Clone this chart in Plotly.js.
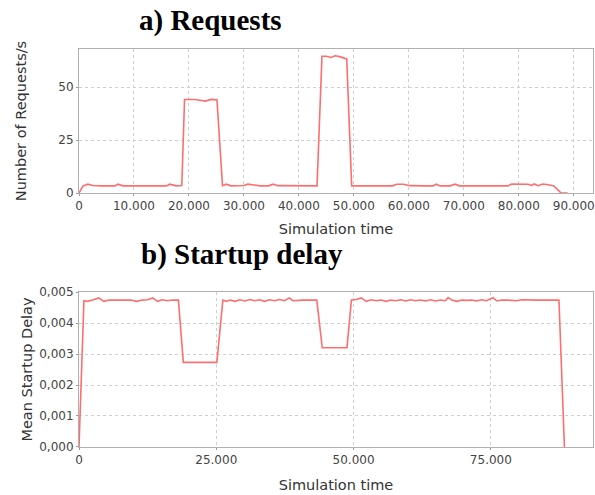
<!DOCTYPE html>
<html>
<head>
<meta charset="utf-8">
<script src="https://cdn.plot.ly/plotly-3.0.1.min.js"></script>
<style>html,body{margin:0;padding:0;background:#fff;}#chart{width:595px;height:495px;}</style>
</head>
<body>
<div id="chart"></div>
<script>
// a) Requests
var reqTime = [
  0, 700, 1600, 2500, 4000, 5500, 6500, 7100, 8000, 10000,
  12000, 14000, 15900, 16500, 17700, 18700, 19200, 20000, 21000, 22000,
  23000, 24000, 25100, 26100, 26800, 27600, 29000, 30000, 30700, 31500,
  33000, 34500, 35300, 36200, 38000, 40000, 42000, 43300, 44200, 45000,
  45800, 46600, 47400, 48000, 48700, 49600, 51000, 53000, 55000, 57000,
  57800, 59000, 60200, 61000, 63000, 64400, 65000, 65700, 67500, 68400,
  69200, 71000, 73000, 75000, 77000, 78000, 78700, 80000, 81700, 82300,
  82800, 83500, 84400, 85300, 86400, 87700, 88900
];
var reqValues = [
  0, 3.3, 4.2, 3.6, 3.4, 3.4, 3.4, 4.2, 3.4, 3.4,
  3.4, 3.4, 3.4, 4.2, 3.4, 3.6, 44.2, 44.2, 44.2, 43.8,
  43.4, 44.2, 44.0, 3.5, 4.2, 3.4, 3.4, 3.6, 4.2, 4.0,
  3.4, 3.4, 4.2, 3.5, 3.4, 3.4, 3.4, 3.4, 64.6, 64.6,
  64.0, 64.8, 64.4, 63.8, 63.3, 3.4, 3.4, 3.4, 3.4, 3.4,
  4.2, 4.2, 3.5, 3.4, 3.4, 3.4, 4.2, 3.4, 3.4, 4.2,
  3.4, 3.4, 3.4, 3.4, 3.4, 3.4, 4.3, 4.3, 4.2, 3.6,
  4.3, 3.5, 4.3, 3.9, 3.4, 0, 0
];
// b) Startup delay
var delayTime = [
  0, 900, 1500, 2500, 3600, 4500, 5500, 6500, 8000, 9500,
  10500, 11500, 12500, 13400, 14300, 15200, 16100, 17000, 18100, 19000,
  25100, 26200, 26800, 27500, 28400, 29300, 30200, 31100, 32000, 32900,
  33800, 34700, 35600, 36500, 37400, 38300, 38900, 39800, 40700, 41600,
  42500, 43300, 44300, 48800, 49600, 50500, 51400, 52300, 53200, 54100,
  55000, 55900, 56800, 57700, 58600, 59500, 60400, 61300, 62200, 63100,
  64000, 64900, 65800, 66700, 67200, 67900, 68800, 69700, 70600, 71500,
  72400, 73300, 74200, 75400, 76100, 77000, 77900, 78800, 79700, 80600,
  81500, 82400, 83300, 84200, 85100, 86000, 87400, 88400
];
var delayValues = [
  0, 0.00472, 0.00470, 0.00474, 0.00481, 0.00470, 0.00474, 0.00474, 0.00474, 0.00474,
  0.00470, 0.00474, 0.00475, 0.00481, 0.00470, 0.00475, 0.00472, 0.00474, 0.00474, 0.00273,
  0.00273, 0.00474, 0.00470, 0.00474, 0.00470, 0.00475, 0.00471, 0.00476, 0.00472, 0.00475,
  0.00470, 0.00475, 0.00472, 0.00476, 0.00472, 0.00481, 0.00472, 0.00474, 0.00474, 0.00474,
  0.00474, 0.00474, 0.00320, 0.00320, 0.00474, 0.00476, 0.00481, 0.00470, 0.00475, 0.00472,
  0.00474, 0.00470, 0.00474, 0.00472, 0.00475, 0.00471, 0.00475, 0.00472, 0.00474, 0.00471,
  0.00475, 0.00471, 0.00474, 0.00472, 0.00482, 0.00474, 0.00470, 0.00474, 0.00473, 0.00474,
  0.00471, 0.00475, 0.00472, 0.00482, 0.00471, 0.00474, 0.00474, 0.00474, 0.00472, 0.00475,
  0.00474, 0.00474, 0.00474, 0.00474, 0.00474, 0.00474, 0.00474, 0.0
];

var xTicksTop = [0, 10000, 20000, 30000, 40000, 50000, 60000, 70000, 80000, 90000];
var xTickTextTop = ["0", "10.000", "20.000", "30.000", "40.000", "50.000", "60.000", "70.000", "80.000", "90.000"];
var yTicksTop = [0, 25, 50];
var yTickTextTop = ["0", "25", "50"];
var xTicksBottom = [0, 25000, 50000, 75000];
var xTickTextBottom = ["0", "25.000", "50.000", "75.000"];
var yTicksBottom = [0, 0.001, 0.002, 0.003, 0.004, 0.005];
var yTickTextBottom = ["0,000", "0,001", "0,002", "0,003", "0,004", "0,005"];

var lineColor = '#ff6e6e';
var tickFont = {family: 'DejaVu Sans', size: 12, color: '#444'};
var titleFont = {family: 'DejaVu Sans', size: 14.5, color: '#333'};

function axisBase() {
  return {
    showline: true, mirror: true, linecolor: '#b0b0b0', linewidth: 1,
    showgrid: true, gridcolor: '#cfcfcf', griddash: 'dot', gridwidth: 1,
    zeroline: false, ticks: 'outside', ticklen: 2, tickcolor: '#999',
    tickfont: tickFont, tickmode: 'array'
  };
}

var traces = [
  {x: reqTime, y: reqValues, xaxis: 'x', yaxis: 'y', type: 'scatter', mode: 'lines',
   line: {color: lineColor, width: 1.6}, hoverinfo: 'skip'},
  {x: delayTime, y: delayValues, xaxis: 'x2', yaxis: 'y2', type: 'scatter', mode: 'lines',
   line: {color: lineColor, width: 1.6}, hoverinfo: 'skip'}
];

var xa = Object.assign(axisBase(), {
  domain: [0, 1], anchor: 'y', range: [0, 93500],
  tickvals: xTicksTop, ticktext: xTickTextTop,
  title: {text: 'Simulation time', font: titleFont, standoff: 11}
});
var ya = Object.assign(axisBase(), {
  domain: [0.638, 1], anchor: 'x', range: [0, 68],
  tickvals: yTicksTop, ticktext: yTickTextTop,
  title: {text: 'Number of Requests/s', font: titleFont, standoff: 28}
});
var xa2 = Object.assign(axisBase(), {
  domain: [0, 1], anchor: 'y2', range: [0, 93600],
  tickvals: xTicksBottom, ticktext: xTickTextBottom,
  title: {text: 'Simulation time', font: titleFont, standoff: 13}
});
var ya2 = Object.assign(axisBase(), {
  domain: [0, 0.3894], anchor: 'x2', range: [0, 0.005],
  tickvals: yTicksBottom, ticktext: yTickTextBottom,
  title: {text: 'Mean Startup Delay', font: titleFont, standoff: 3}
});

var layout = {
  width: 595, height: 495,
  margin: {l: 79, r: 2, t: 49, b: 48},
  paper_bgcolor: '#ffffff', plot_bgcolor: '#ffffff',
  showlegend: false,
  xaxis: xa, yaxis: ya, xaxis2: xa2, yaxis2: ya2,
  annotations: [
    {text: '<b>a) Requests</b>', xref: 'paper', yref: 'paper', x: 0.255, y: 1.072,
     xanchor: 'center', yanchor: 'middle', showarrow: false,
     font: {family: 'Liberation Serif', size: 29, color: '#000'}},
    {text: '<b>b) Startup delay</b>', xref: 'paper', yref: 'paper', x: 0.317, y: 0.483,
     xanchor: 'center', yanchor: 'middle', showarrow: false,
     font: {family: 'Liberation Serif', size: 29, color: '#000'}}
  ]
};

Plotly.newPlot('chart', traces, layout, {displayModeBar: false, staticPlot: true});
</script>
</body>
</html>
